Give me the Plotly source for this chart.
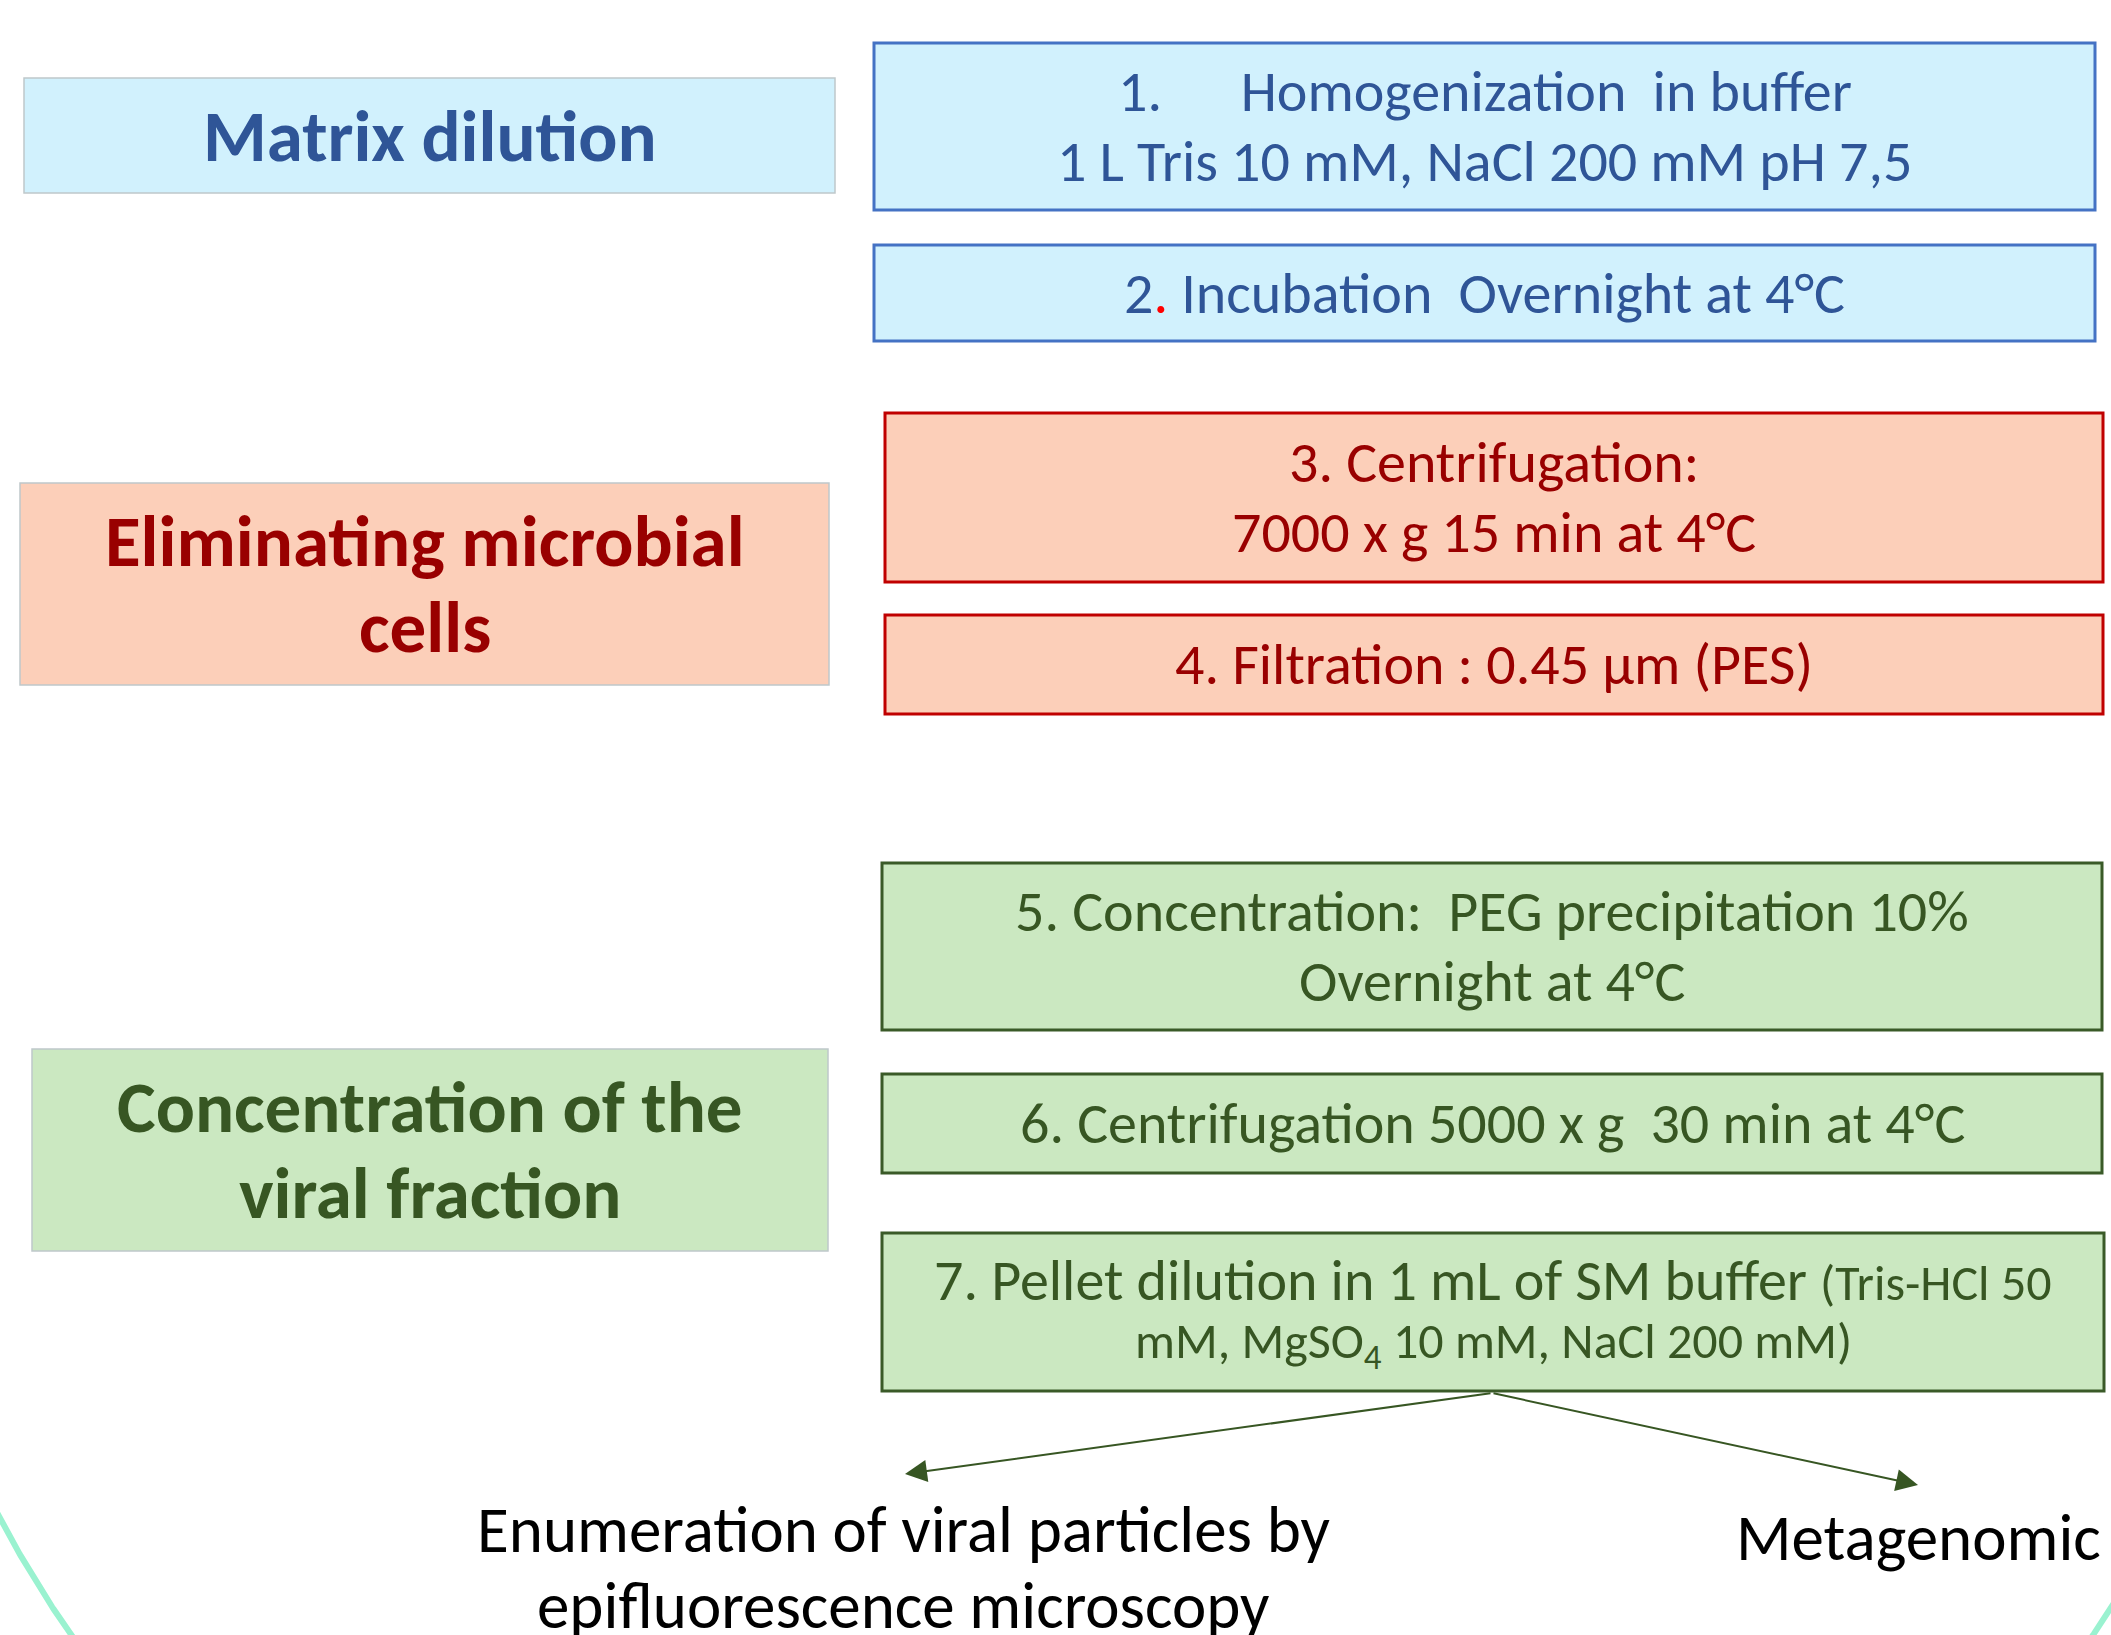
import numpy as np
import plotly.graph_objects as go

# ---------------- content (text data) ----------------
phase_titles = [
    ["Matrix dilution"],
    ["Eliminating microbial", "cells"],
    ["Concentration of the", "viral fraction"],
]
step_lines = [
    ["1.\u00a0\u00a0\u00a0\u00a0\u00a0\u00a0Homogenization\u00a0\u00a0in buffer",
     "1 L Tris 10 mM, NaCl 200 mM pH 7,5"],
    ["2<span style='color:#FF0000'>.</span> Incubation\u00a0\u00a0Overnight at 4°C"],
    ["3. Centrifugation:", "7000 x g 15 min at 4°C"],
    ["4. Filtration : 0.45 µm (PES)"],
    ["5. Concentration:\u00a0\u00a0PEG precipitation 10%", "Overnight at 4°C"],
    ["6. Centrifugation 5000 x g\u00a0\u00a030 min at 4°C"],
    ["7. Pellet dilution in 1 mL of SM buffer <span style='font-size:50px'>(Tris-HCl 50</span>",
     "<span style='font-size:50px'>mM, MgSO<sub>4</sub> 10 mM, NaCl 200 mM)</span>"],
]
step_phase = [0, 0, 1, 1, 2, 2, 2]
outcome_labels = [
    ["Enumeration of viral particles by", "epifluorescence microscopy"],
    ["Metagenomic"],
]

# ---------------- layout geometry / styles ----------------
W, H = 2111, 1635
phase_boxes = [(24, 835, 78, 193), (20, 829, 483, 685), (32, 828, 1049, 1251)]
step_boxes = [(874, 2095, 43, 210), (874, 2095, 245, 341), (885, 2103, 413, 582),
              (885, 2103, 615, 714), (882, 2102, 863, 1030), (882, 2102, 1074, 1173),
              (882, 2104, 1233, 1391)]
step_spacing = [70, 0, 70, 0, 70, 0, 64]
fills = ["#D1F1FD", "#FCCFB9", "#CBE8C1"]
borders = ["#4472C4", "#C00000", "#3A5A28"]
text_cols = ["#2F5597", "#990000", "#375623"]
FONT = "Carlito, Calibri, Lato, sans-serif"
TITLE_SIZE, STEP_SIZE, OUT_SIZE = 73, 58, 65

fig = go.Figure()

# decorative arc (part of a large circle) at the bottom corners
cx, cy, r = 1082, 938, 1228
for a0, a1 in [(np.pi * 0.74, np.pi * 0.88), (np.pi * 0.12, np.pi * 0.26)]:
    t = np.linspace(a0, a1, 200)
    fig.add_trace(go.Scatter(x=cx + r * np.cos(t), y=cy + r * np.sin(t), mode="lines",
                             line=dict(color="#9AF2D0", width=6), hoverinfo="skip",
                             showlegend=False))

shapes = []
annotations = []

for i, (x0, x1, y0, y1) in enumerate(phase_boxes):
    shapes.append(dict(type="rect", x0=x0, x1=x1, y0=y0, y1=y1, xref="x", yref="y",
                       fillcolor=fills[i], line=dict(color="#BFC8CA", width=1.5), layer="below"))
    lines = phase_titles[i]
    n = len(lines)
    yc = (y0 + y1) / 2
    for k, txt in enumerate(lines):
        yy = yc + (k - (n - 1) / 2) * 86
        annotations.append(dict(x=(x0 + x1) / 2, y=yy, xref="x", yref="y", text="<b>" + txt + "</b>",
                                showarrow=False, xanchor="center", yanchor="middle",
                                font=dict(family=FONT, size=TITLE_SIZE, color=text_cols[i])))

for i, (x0, x1, y0, y1) in enumerate(step_boxes):
    p = step_phase[i]
    shapes.append(dict(type="rect", x0=x0, x1=x1, y0=y0, y1=y1, xref="x", yref="y",
                       fillcolor=fills[p], line=dict(color=borders[p], width=3), layer="below"))
    lines = step_lines[i]
    n = len(lines)
    yc = (y0 + y1) / 2
    for k, txt in enumerate(lines):
        yy = yc + (k - (n - 1) / 2) * step_spacing[i]
        annotations.append(dict(x=(x0 + x1) / 2, y=yy, xref="x", yref="y", text=txt,
                                showarrow=False, xanchor="center", yanchor="middle",
                                font=dict(family=FONT, size=STEP_SIZE, color=text_cols[p])))

# arrows from step 7 to outcomes
src = ((step_boxes[6][0] + step_boxes[6][1]) / 2 - 1, step_boxes[6][3] + 2)
arrow_tips = [(905, 1474), (1918, 1485)]
for (tx, ty) in arrow_tips:
    annotations.append(dict(x=tx, y=ty, ax=src[0], ay=src[1], xref="x", yref="y",
                            axref="x", ayref="y", text="", showarrow=True, arrowhead=2,
                            arrowsize=2.2, arrowwidth=2, arrowcolor="#375623"))

outcome_pos = [(903, [1529, 1605]), (1918, [1537])]
for labels, (ox, oys) in zip(outcome_labels, outcome_pos):
    for txt, oy in zip(labels, oys):
        annotations.append(dict(x=ox, y=oy, xref="x", yref="y", text=txt, showarrow=False,
                                xanchor="center", yanchor="middle",
                                font=dict(family=FONT, size=OUT_SIZE, color="#000000")))

fig.update_layout(
    width=W, height=H, margin=dict(l=0, r=0, t=0, b=0),
    paper_bgcolor="white", plot_bgcolor="white",
    xaxis=dict(range=[0, W], visible=False, fixedrange=True),
    yaxis=dict(range=[H, 0], visible=False, fixedrange=True),
    shapes=shapes, annotations=annotations, showlegend=False,
)

fig.write_html("out.html", config={"displayModeBar": False},
               post_script="document.body.style.margin='0';document.body.style.overflow='hidden';")
